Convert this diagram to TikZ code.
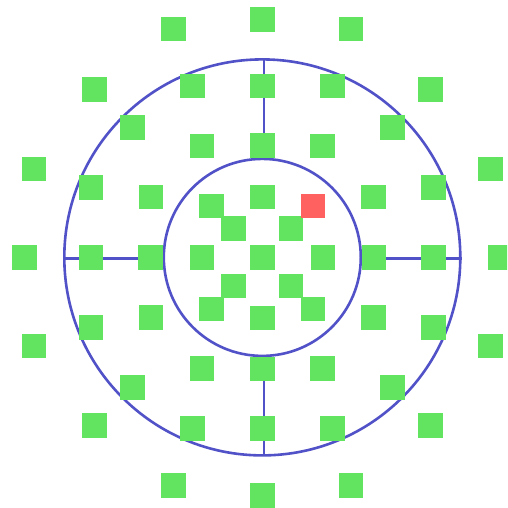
\documentclass[tikz,border=0pt]{standalone}
\definecolor{sqgreen}{RGB}{98,228,96}
\definecolor{sqred}{RGB}{255,96,96}
\definecolor{ringblue}{RGB}{82,82,200}
\begin{document}
\begin{tikzpicture}[x=1pt,y=-1pt,
  sq/.style={rectangle, minimum size=24.5pt, inner sep=0pt, fill=sqgreen},
  redsq/.style={sq, fill=sqred},
  ring/.style={draw=ringblue, line width=2.6pt}]
\useasboundingbox (0,0) rectangle (507,508);
\clip (0,0) rectangle (507,508);
\fill[white] (0,0) rectangle (507,508);
\coordinate (c) at (262.3,257.4);
% circles
\draw[ring] (c) circle (198);
\draw[ring] (c) circle (98.5);
% spokes
\coordinate (ot) at (263.8,58.4);
\coordinate (it) at (263.8,159.9);
\coordinate (ib) at (263.8,354.9);
\coordinate (ob) at (263.8,456.4);
\coordinate (ol) at (63.3,258.3);
\coordinate (il) at (164.8,258.3);
\coordinate (ir) at (359.8,258.3);
\coordinate (or) at (461.8,258.3);
\draw[ring] (ot) -- (it);
\draw[ring] (ib) -- (ob);
\draw[ring] (ol) -- (il);
\draw[ring] (ir) -- (or);
% centre square
\node[sq] (s0) at (c) {};
% squares on the axes
\foreach \r [count=\i] in {238,171.3,111.7,60.5} {
  \node[sq] (a\i n) at (262.3,257.4-\r) {};
  \node[sq] (a\i s) at (262.3,257.4+\r) {};
  \node[sq] (a\i w) at (262.3-\r,257.4) {};
  \node[sq] (a\i e) at (262.3+\r,257.4) {};
}
% squares off the axes, one per quadrant
\foreach \dx/\dy [count=\i] in {88.8/228.3, 228.1/88.5, 168/168, 70/171.3, 171.1/70, 130/130, 60.2/111.2, 111.2/60.2, 50.8/51.4, 28.7/28.7} {
  \node[sq] (q\i a) at (262.3+\dx,257.4-\dy) {};
  \node[sq] (q\i b) at (262.3-\dx,257.4-\dy) {};
  \node[sq] (q\i c) at (262.3-\dx,257.4+\dy) {};
  \node[sq] (q\i d) at (262.3+\dx,257.4+\dy) {};
}
% the red square
\node[redsq] (red) at (313.1,206.0) {};
\end{tikzpicture}
\end{document}
